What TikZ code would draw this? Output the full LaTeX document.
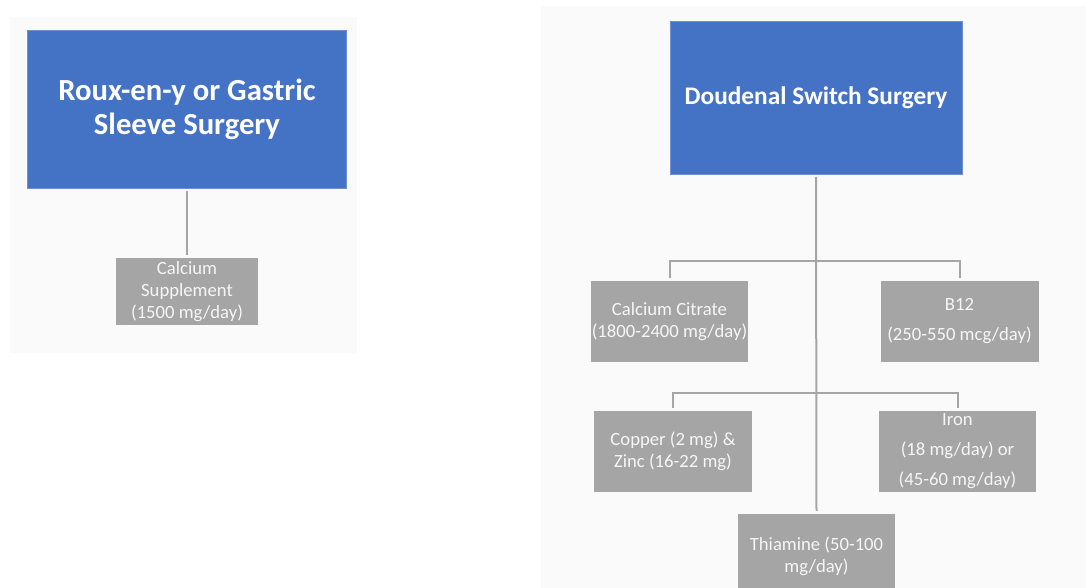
\documentclass[tikz,border=0pt]{standalone}
\usepackage{fontspec}
\setmainfont{Carlito}

\tikzset{every picture/.style={line width=0.75pt}}
\tikzset{
  panel/.style={fill={rgb, 255:red, 250; green, 250; blue, 250 }, draw=none},
  surgery/.style={rectangle, fill={rgb, 255:red, 68; green, 114; blue, 196 }, draw={rgb, 255:red, 110; green, 145; blue, 210 }, line width=0.5pt, text=white, font=\bfseries, align=center, inner sep=0pt},
  supp/.style={rectangle, fill={rgb, 255:red, 165; green, 165; blue, 165 }, draw=none, text={rgb, 255:red, 246; green, 246; blue, 246 }, font=\fontsize{14}{16.5}\selectfont, align=center, inner sep=0pt},
  link/.style={draw={rgb, 255:red, 165; green, 165; blue, 165 }, line width=1.5pt, shorten <=2pt, shorten >=2pt}
}

\begin{document}
\begin{tikzpicture}[x=0.75pt,y=0.75pt,yscale=-1,xscale=1]
\useasboundingbox (0,0) rectangle (1086,588);
%Shape: Rectangle [id:left panel] 
\path [panel] (10,17) rectangle (357,353);
%Shape: Rectangle [id:right panel] 
\path [panel] (541,6) rectangle (1086,588);

% Surgery boxes
\node [surgery, font=\fontsize{23}{25.5}\selectfont\bfseries, minimum width=239pt, minimum height=118.5pt] (rny) at (187,109) {Roux-en-y or Gastric\\Sleeve Surgery};
\node [surgery, font=\fontsize{19}{23}\selectfont\bfseries, minimum width=219pt, minimum height=114.75pt] (ds) at (816,97.5) {Doudenal Switch Surgery};

% Supplement boxes
\node [supp, minimum width=106.5pt, minimum height=50.25pt] (calsup) at (187,291.5) {Calcium\\Supplement\\(1500 mg/day)};
\node [supp, minimum width=117.75pt, minimum height=60.75pt] (calcit) at (669.5,321.5) {Calcium Citrate\\(1800-2400 mg/day)};
\node [supp, minimum width=118.5pt, minimum height=60.75pt] (btwelve) at (959.5,321.5) {B12\\[6pt](250-550 mcg/day)};
\node [supp, minimum width=118.5pt, minimum height=60.75pt] (copzin) at (673,451.5) {Copper (2 mg) \&\\Zinc (16-22 mg)};
\node [supp, minimum width=117.75pt, minimum height=60.75pt] (iron) at (957.5,451.5) {Iron\\[6pt](18 mg/day) or\\[6pt](45-60 mg/day)};
\node [supp, minimum width=117.75pt, minimum height=63pt] (thia) at (816.5,556) {Thiamine (50-100\\mg/day)};

%Straight Lines
\draw [link] (rny.south) -- (calsup.north);
\draw [link] (ds.south) -- (thia.north);
\draw [link] (calcit.north) -- ++(0,-19) -| (btwelve.north);
\draw [link] (copzin.north) -- ++(0,-18) -| (iron.north);

\end{tikzpicture}
\end{document}
